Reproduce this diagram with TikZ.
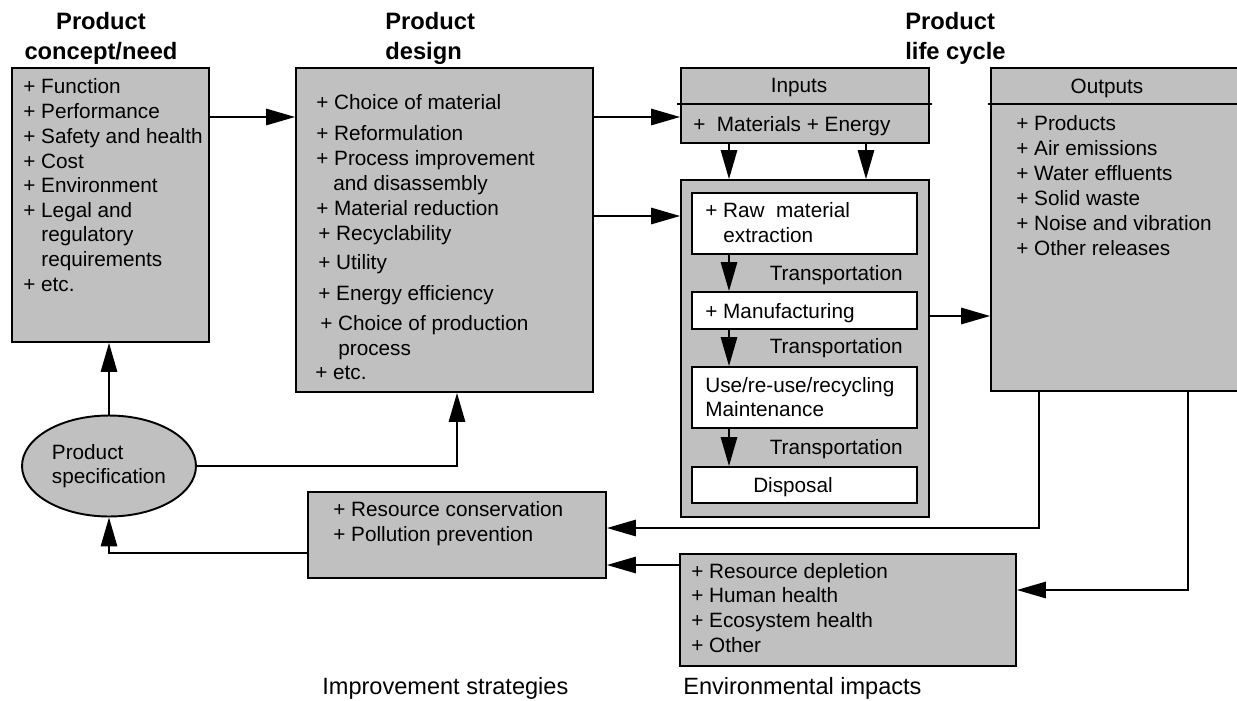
\documentclass[tikz,border=0pt]{standalone}
\usepackage{fontspec}
\setmainfont{Liberation Sans}
\usetikzlibrary{positioning,arrows.meta,fit,shapes.geometric,calc}
\definecolor{boxgray}{RGB}{192,192,192}
\newcommand\itemfont{\fontsize{11.8}{14}\selectfont}
\newcommand\headfont{\fontsize{13.5}{17}\selectfont\bfseries}
\newcommand\capfont{\fontsize{13.4}{16}\selectfont}
\tikzset{
  graybox/.style={draw, fill=boxgray, line width=1.1pt, inner sep=0pt},
  whitebox/.style={draw, fill=white, line width=1.1pt, inner sep=0pt},
  itemtxt/.style={anchor=west, inner sep=0pt, text height=8.4pt, text depth=0pt, font=\itemfont},
  headtxt/.style={anchor=north west, inner sep=0pt, align=left, font=\headfont},
  captxt/.style={anchor=west, inner sep=0pt, text height=9.5pt, text depth=0pt, font=\capfont},
  arr/.style={-{Triangle[length=0.58cm,width=0.33cm]}, line width=0.8pt},
  divline/.style={line width=1.1pt}
}

\begin{document}
\begin{tikzpicture}[x=0.02cm, y=-0.02cm]
  \useasboundingbox (0,0) rectangle (1237,700);
  \clip (0,0) rectangle (1237,700);

  % Headings
  \node[headtxt, anchor=north, align=center] (hconcept) at (101,12) {Product\\concept/need};
  \node[headtxt] (hdesign) at (385,12) {Product\\design};
  \node[headtxt] (hlife) at (905,12) {Product\\life cycle};

  % Main boxes
  \node[graybox, fit={(12,68) (209,342)}] (concept) {};
  \node[graybox, fit={(296,68) (593,392)}] (design) {};
  \node[graybox, fit={(681,68) (929,143)}] (inputs) {};
  \node[graybox, fit={(681,180) (929,517)}] (life) {};
  \node[graybox, fit={(991,68) (1260,391)}] (outputs) {};
  \node[graybox, fit={(308,492) (606,578)}] (strat) {};
  \node[graybox, fit={(680,554) (1016,666)}] (impacts) {};
  \node[graybox, ellipse, minimum width=3.48cm, minimum height=2.02cm,
        align=left, font=\itemfont] (spec) at (109,466) {Product\\specification};

  % Life cycle stages
  \node[whitebox, fit={(692,193) (917,254)}] (raw) {};
  \node[whitebox, fit={(692,292) (917,329)}] (manuf) {};
  \node[whitebox, fit={(692,367) (917,428)}] (use) {};
  \node[whitebox, fit={(692,467) (917,503)}] (disp) {};

  % Header dividers
  \coordinate (dv) at (0,104);
  \draw[divline, shorten <=-0.06cm, shorten >=-0.04cm] (inputs.west |- dv) -- (inputs.east |- dv);
  \draw[divline, shorten <=-0.04cm] (outputs.west |- dv) -- (outputs.east |- dv);

  % Box texts
  \foreach \xx/\yy/\itm in {23/86/{+ Function}, 23/111/{+ Performance},
      23/136/{+ Safety and health}, 23/161/{+ Cost}, 23/185/{+ Environment},
      23/210/{+ Legal and}, 41/234/{regulatory}, 41/259/{requirements},
      23/284/{+ etc.}}
    \node[itemtxt] (ci\yy) at (\xx,\yy) {\itm};
  \foreach \xx/\yy/\itm in {316/102/{+ Choice of material}, 316/133/{+ Reformulation},
      316/158/{+ Process improvement}, 333/183/{and disassembly},
      316/208/{+ Material reduction}, 318/233/{+ Recyclability}, 318/262/{+ Utility},
      318/293/{+ Energy efficiency}, 320/323/{+ Choice of production},
      338/348/{process}, 315/372/{+ etc.}}
    \node[itemtxt] (di\yy) at (\xx,\yy) {\itm};
  \foreach \yy/\itm in {123/{+ Products}, 148/{+ Air emissions}, 173/{+ Water effluents},
      198/{+ Solid waste}, 223/{+ Noise and vibration}, 248/{+ Other releases}}
    \node[itemtxt] (oi\yy) at (1016,\yy) {\itm};
  \foreach \yy/\itm in {571/{+ Resource depletion}, 595/{+ Human health},
      620/{+ Ecosystem health}, 645/{+ Other}}
    \node[itemtxt] (ei\yy) at (691,\yy) {\itm};
  \node[itemtxt] (si1) at (333,509) {+ Resource conservation};
  \node[itemtxt] (si2) at (333,534) {+ Pollution prevention};

  \node[itemtxt, anchor=center] (inhead) at (799,85) {Inputs};
  \node[itemtxt] (initem) at (693,124) {+~ Materials + Energy};
  \node[itemtxt, anchor=center] (outhead) at (1107,86) {Outputs};

  \node[itemtxt] (rawa) at (705,210) {+ Raw~ material};
  \node[itemtxt] (rawb) at (723,235) {extraction};
  \node[itemtxt] (mantx) at (705,311) {+ Manufacturing};
  \node[itemtxt] (usea) at (705,385) {Use/re-use/recycling};
  \node[itemtxt] (useb) at (705,409) {Maintenance};
  \node[itemtxt, anchor=center] (disptx) at (793,485) {Disposal};
  \foreach \yy in {273,346,447}
    \node[itemtxt, anchor=east] (tr\yy) at (903,\yy) {Transportation};

  % Captions
  \node[captxt] (capstrat) at (322,686) {Improvement strategies};
  \node[captxt] (capimp) at (683,686) {Environmental impacts};

  % Connectors
  \coordinate (ra) at (0,117);
  \coordinate (rb) at (0,216);
  \coordinate (rc) at (0,316);
  \coordinate (rd) at (0,528);
  \coordinate (re) at (0,565);
  \coordinate (rf) at (0,553);
  \coordinate (rg) at (0,590);
  \coordinate (ka) at (729,0);
  \coordinate (kb) at (866,0);
  \coordinate (kc) at (457,0);
  \coordinate (kd) at (1039,0);
  \coordinate (ke) at (1188,0);

  \draw[arr] (concept.east |- ra) -- (design.west |- ra);
  \draw[arr] (design.east |- ra) -- (inputs.west |- ra);
  \draw[arr] (design.east |- rb) -- (life.west |- rb);
  \draw[arr] (life.east |- rc) -- (outputs.west |- rc);
  \foreach \k in {ka,kb}
    \draw[arr] (inputs.south -| \k) -- (life.north -| \k);
  \draw[arr] (raw.south -| ka) -- (manuf.north -| ka);
  \draw[arr] (manuf.south -| ka) -- (use.north -| ka);
  \draw[arr] (use.south -| ka) -- (disp.north -| ka);
  \draw[arr] (spec.north) -- (concept.south -| spec.north);
  \draw[arr] (spec.east) -| (design.south -| kc);
  \draw[arr] (strat.west |- rf) -| (spec.south);
  \draw[arr] (outputs.south -| kd) |- (strat.east |- rd);
  \draw[arr] (outputs.south -| ke) |- (impacts.east |- rg);
  \draw[arr] (impacts.west |- re) -- (strat.east |- re);
\end{tikzpicture}
\end{document}
